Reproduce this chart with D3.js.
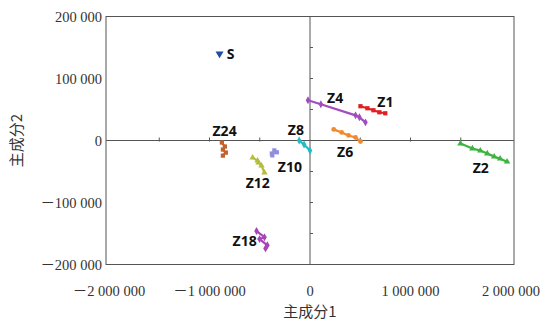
<!DOCTYPE html>
<html>
<head>
<meta charset="utf-8">
<script src="https://cdn.jsdelivr.net/npm/d3@7"></script>
<style>
  body { margin: 0; background: #fff; }
  .tick-label { font-family: "Liberation Serif", "Noto Sans CJK SC", serif; font-size: 14.5px; fill: #333; }
  .axis-title { font-family: "Noto Sans CJK SC", serif; font-size: 15px; fill: #333; }
  .series-label { font-family: "Open Sans", "Noto Sans", sans-serif; font-weight: bold; font-size: 14px; fill: #111; }
</style>
</head>
<body>
<script>
var width = 547, height = 321

// data
var seriesNames = ["S", "Z4", "Z1", "Z6", "Z2", "Z8", "Z10", "Z12", "Z24", "Z18"]
var sX = [-900000]
var sY = [140000]
var z4X = [-20000, 108000, 453000, 492000, 552000]
var z4Y = [65000, 58500, 40600, 37400, 29300]
var z1X = [502000, 571000, 631000, 690000, 749000]
var z1Y = [55300, 52000, 48800, 45500, 43900]
var z6X = [236000, 315000, 384000, 453000, 502000]
var z6Y = [17900, 13000, 8100, 4900, -1600]
var z2X = [1497000, 1616000, 1695000, 1764000, 1833000, 1892000, 1961000]
var z2Y = [-4900, -13000, -16300, -21100, -26000, -29300, -34100]
var z8X = [-108000, -59000, 0]
var z8Y = [0, -6500, -16300]
var z10X = [-380000, -330000, -355000, -375000]
var z10Y = [-21000, -19000, -16000, -24000]
var z12X = [-571000, -522000, -512000, -483000, -453000]
var z12Y = [-27600, -32500, -35800, -40600, -52000]
var z24X = [-877000, -847000, -867000, -837000, -867000]
var z24Y = [-3300, -9700, -14600, -19500, -24400]
var z18X = [-532000, -453000, -502000, -424000, -443000]
var z18Y = [-146000, -156000, -159000, -169000, -174000]

var xTicks = [-2000000, -1000000, 0, 1000000, 2000000]
var yTicks = [-200000, -100000, 0, 100000, 200000]
var xMinor = d3.range(-2000000, 2000001, 500000)
var yMinor = d3.range(-200000, 200001, 50000)

var seriesData = [sX, z4X, z1X, z6X, z2X, z8X, z10X, z12X, z24X, z18X].map(function(xs, i) {
  var ys = [sY, z4Y, z1Y, z6Y, z2Y, z8Y, z10Y, z12Y, z24Y, z18Y][i]
  return { name: seriesNames[i], pts: xs.map(function(x, j) { return [x, ys[j]] }) }
})

var colors = {
  S: "#1f4f9e", Z4: "#a24cc0", Z1: "#e02020", Z6: "#f08a2c", Z2: "#3db43d",
  Z8: "#22bcc4", Z10: "#8f8fe0", Z12: "#b5bd3c", Z24: "#c4622e", Z18: "#a645b5"
}
var symbols = {
  S: d3.symbolTriangle, Z4: d3.symbolDiamond, Z1: d3.symbolSquare, Z6: d3.symbolCircle,
  Z2: d3.symbolTriangle, Z8: d3.symbolDiamond, Z10: d3.symbolSquare, Z12: d3.symbolTriangle,
  Z24: d3.symbolSquare, Z18: d3.symbolDiamond
}
// label anchor positions in data units
var labelPos = {
  S: [-790000, 137000], Z4: [250000, 67000], Z1: [750000, 60000], Z6: [350000, -20000],
  Z2: [1700000, -47000], Z8: [-140000, 15000], Z10: [-200000, -44000], Z12: [-520000, -70000],
  Z24: [-850000, 14000], Z18: [-650000, -164000]
}

var svg = d3.select("body").append("svg")
  .attr("width", width)
  .attr("height", height)

var x = d3.scaleLinear().domain([-2030000, 2030000]).range([106, 514])
var y = d3.scaleLinear().domain([-200000, 200000]).range([264.5, 16.5])

function fmt(d) {
  var s = d3.format(",")(Math.abs(d)).replace(/,/g, " ")
  return (d < 0 ? "\uFF0D" : "") + s
}

// frame
svg.append("rect")
  .attr("x", x.range()[0]).attr("y", y.range()[1])
  .attr("width", x.range()[1] - x.range()[0])
  .attr("height", y.range()[0] - y.range()[1])
  .attr("fill", "none").attr("stroke", "#555").attr("stroke-width", 1)

// inner axes through zero
svg.append("line")
  .attr("x1", x.range()[0]).attr("x2", x.range()[1])
  .attr("y1", y(0)).attr("y2", y(0))
  .attr("stroke", "#555")
svg.append("line")
  .attr("x1", x(0)).attr("x2", x(0))
  .attr("y1", y.range()[1]).attr("y2", y.range()[0])
  .attr("stroke", "#555")

svg.append("g").selectAll("line")
  .data(xMinor.filter(function(d) { return d !== 0 && Math.abs(d) < 2000000 }))
  .enter().append("line")
  .attr("x1", function(d) { return x(d) }).attr("x2", function(d) { return x(d) })
  .attr("y1", y(0) - 3).attr("y2", y(0) + 1)
  .attr("stroke", "#555")
svg.append("g").selectAll("line")
  .data(yMinor.filter(function(d) { return d !== 0 && Math.abs(d) < 200000 }))
  .enter().append("line")
  .attr("x1", x(0)).attr("x2", x(0) + 3)
  .attr("y1", function(d) { return y(d) }).attr("y2", function(d) { return y(d) })
  .attr("stroke", "#555")

// tick labels
svg.append("g").selectAll("text")
  .data(xTicks)
  .enter().append("text")
  .attr("class", "tick-label")
  .attr("x", function(d) { return x(d) })
  .attr("y", 296)
  .attr("text-anchor", "middle")
  .text(fmt)
svg.append("g").selectAll("text")
  .data(yTicks)
  .enter().append("text")
  .attr("class", "tick-label")
  .attr("x", 102)
  .attr("y", function(d) { return y(d) + 5 })
  .attr("text-anchor", "end")
  .text(fmt)

// axis titles
svg.append("text").attr("class", "axis-title")
  .attr("x", x(0)).attr("y", 317).attr("text-anchor", "middle")
  .text("主成分1")
svg.append("text").attr("class", "axis-title")
  .attr("transform", "translate(22," + y(0) + ") rotate(-90)")
  .attr("text-anchor", "middle")
  .text("主成分2")

// series lines and markers
var line = d3.line().x(function(d) { return x(d[0]) }).y(function(d) { return y(d[1]) })

var series = svg.append("g").selectAll("g")
  .data(seriesData)
  .enter().append("g")

series.append("path")
  .attr("d", function(d) { return line(d.pts) })
  .attr("fill", "none")
  .attr("stroke", function(d) { return colors[d.name] })
  .attr("stroke-width", 2.2)

series.selectAll("path.mark")
  .data(function(d) { return d.pts.map(function(p) { return { p: p, name: d.name } }) })
  .enter().append("path")
  .attr("class", "mark")
  .attr("d", function(d) { return d3.symbol().type(symbols[d.name]).size(d.name === "S" ? 28 : 18)() })
  .attr("transform", function(d) {
    var r = (d.name === "S") ? " rotate(180)" : ""
    return "translate(" + x(d.p[0]) + "," + y(d.p[1]) + ")" + r
  })
  .attr("fill", function(d) { return colors[d.name] })

// series labels
svg.append("g").selectAll("text")
  .data(seriesNames)
  .enter().append("text")
  .attr("class", "series-label")
  .attr("x", function(d) { return x(labelPos[d][0]) })
  .attr("y", function(d) { return y(labelPos[d][1]) })
  .attr("text-anchor", "middle")
  .attr("dominant-baseline", "middle")
  .text(function(d) { return d })
</script>
</body>
</html>
